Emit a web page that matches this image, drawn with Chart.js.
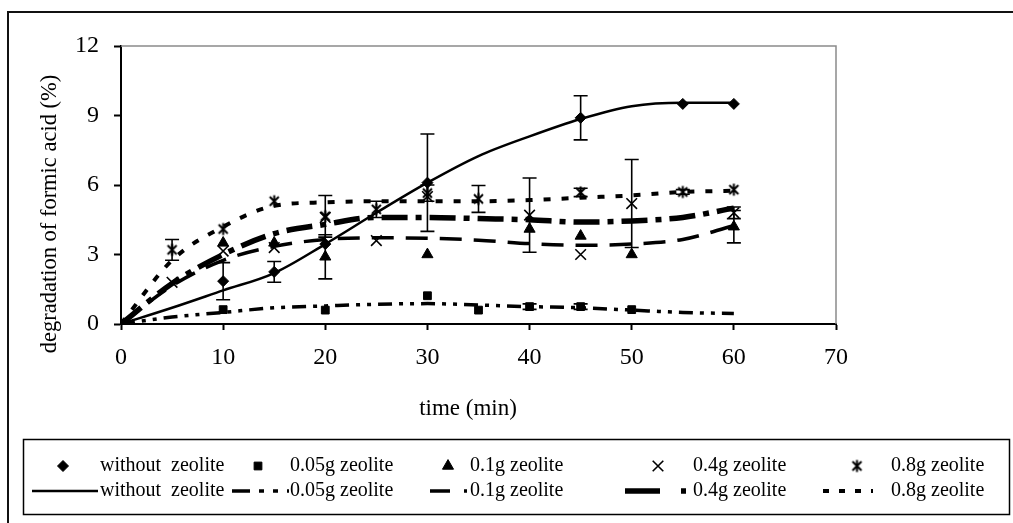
<!DOCTYPE html>
<html><head><meta charset="utf-8">
<script src="https://cdn.jsdelivr.net/npm/chart.js@4.4.1/dist/chart.umd.min.js"></script>
<style>html,body{margin:0;padding:0;background:#fff;}#wrap{width:1013px;height:523px;position:relative;}</style>
</head><body><div id="wrap"><canvas id="c" width="1013" height="523"></canvas></div>
<script>
// ---------- data ----------
const timeTicks = [0, 10, 20, 30, 40, 50, 60, 70];
const valueTicks = [0, 3, 6, 9, 12];
const seriesNames = ['without  zeolite', '0.05g zeolite', '0.1g zeolite', '0.4g zeolite', '0.8g zeolite'];
const xTitle = 'time (min)';
const yTitle = 'degradation of formic acid (%)';

// measured points (markers) with error (+/-)
const tNo  = [0, 10, 15, 20, 30, 45, 55, 60];
const vNo  = [0, 1.85, 2.25, 3.45, 6.1, 8.9, 9.5, 9.5];
const eNo  = [0, 0.8, 0.45, 0, 2.1, 0.95, 0, 0];

const t005 = [0, 10, 20, 30, 35, 40, 45, 50];
const v005 = [0, 0.62, 0.6, 1.22, 0.6, 0.75, 0.75, 0.62];
const e005 = [0, 0, 0, 0, 0, 0.12, 0.12, 0];

const t01  = [0, 10, 15, 20, 30, 40, 45, 50, 60];
const v01  = [0, 3.5, 3.5, 2.9, 3.0, 4.1, 3.8, 3.0, 4.2];
const e01  = [0, 0, 0, 0.95, 0, 0, 0, 0, 0.7];

const t04  = [0, 5, 10, 15, 20, 25, 30, 40, 45, 50, 60];
const v04  = [0, 1.8, 3.15, 3.3, 4.6, 3.6, 5.5, 4.7, 3.0, 5.2, 4.8];
const e04  = [0, 0, 0, 0, 0, 0, 0, 1.6, 0, 1.9, 0.25];

const t08  = [0, 5, 10, 15, 20, 25, 30, 35, 45, 55, 60];
const v08  = [0, 3.2, 4.1, 5.3, 4.65, 4.95, 5.65, 5.4, 5.68, 5.7, 5.8];
const e08  = [0, 0.45, 0, 0, 0.9, 0.35, 0.35, 0.58, 0.18, 0.1, 0];

// smoothed trend lines
const timeLine = [0, 5, 10, 15, 20, 25, 30, 35, 40, 45, 50, 55, 60];
const lineNo  = [0, 0.7, 1.45, 2.2, 3.45, 4.8, 6.1, 7.25, 8.1, 8.85, 9.4, 9.55, 9.55];
const line005 = [0, 0.3, 0.5, 0.7, 0.78, 0.85, 0.88, 0.82, 0.75, 0.7, 0.6, 0.5, 0.45];
const line01  = [0, 1.65, 2.75, 3.35, 3.65, 3.72, 3.7, 3.62, 3.47, 3.4, 3.45, 3.65, 4.25];
const line04  = [0, 1.75, 3.0, 3.9, 4.3, 4.6, 4.6, 4.55, 4.5, 4.4, 4.45, 4.6, 5.0];
const line08  = [0, 2.75, 4.2, 5.1, 5.25, 5.3, 5.3, 5.3, 5.35, 5.45, 5.55, 5.7, 5.75];

// ---------- helpers ----------
const FONT = '"Liberation Serif", "Times New Roman", serif';
function pts(t, v) { return t.map((x, i) => ({ x: x, y: v[i] })); }
function makeStar() {
  const c = document.createElement('canvas'); c.width = 15; c.height = 15;
  const g = c.getContext('2d'); g.strokeStyle = '#000'; g.lineWidth = 2;
  g.beginPath();
  g.moveTo(3, 3); g.lineTo(12, 12); g.moveTo(12, 3); g.lineTo(3, 12);
  g.moveTo(7.5, 1.5); g.lineTo(7.5, 13.5); g.stroke();
  return c;
}
const starImg = makeStar();

const markerDefs = [
  { t: tNo, v: vNo, e: eNo, style: 'rectRot', r: 5.5 },
  { t: t005, v: v005, e: e005, style: 'rect', r: 5.5 },
  { t: t01, v: v01, e: e01, style: 'triangle', r: 6.4 },
  { t: t04, v: v04, e: e04, style: 'crossRot', r: 7.5 },
  { t: t08, v: v08, e: e08, style: starImg, r: 7 }
];
const lineDefs = [
  { v: lineNo, dash: [], legendDash: [], w: 2.5 },
  { v: line005, dash: [14, 7, 4, 7, 4, 7], legendDash: [18, 9, 5, 9, 5, 9], w: 3.5 },
  { v: line01, dash: [22, 12], legendDash: [20, 14], w: 3.5 },
  { v: line04, dash: [26, 8, 6, 8], legendDash: [35, 21, 5, 20], w: 5.5 },
  { v: line08, dash: [7, 11], legendDash: [6, 10], w: 4 }
];

const datasets = [];
markerDefs.forEach((m, i) => {
  datasets.push({
    label: seriesNames[i], data: pts(m.t, m.v), showLine: false,
    pointStyle: m.style, pointRadius: m.r, pointHoverRadius: m.r,
    backgroundColor: '#000', borderColor: '#000', pointBorderWidth: m.style === 'crossRot' ? 1.6 : 1,
    errors: m.e
  });
});
lineDefs.forEach((l, i) => {
  datasets.push({
    label: seriesNames[i], data: pts(timeLine, l.v), showLine: true,
    borderColor: '#000', borderWidth: l.w, borderDash: l.dash, borderCapStyle: 'butt',
    pointRadius: 0, pointHoverRadius: 0, fill: false,
    cubicInterpolationMode: 'monotone'
  });
});

// ---------- custom drawing plugin ----------
function drawMarker(ctx, style, r, x, y) {
  ctx.save();
  ctx.fillStyle = '#000'; ctx.strokeStyle = '#000'; ctx.lineWidth = 1;
  ctx.beginPath();
  if (style === 'rectRot') {
    ctx.moveTo(x - r, y); ctx.lineTo(x, y - r); ctx.lineTo(x + r, y); ctx.lineTo(x, y + r); ctx.closePath(); ctx.fill(); ctx.stroke();
  } else if (style === 'rect') {
    const s = r * Math.SQRT1_2; ctx.rect(x - s, y - s, 2 * s, 2 * s); ctx.fill(); ctx.stroke();
  } else if (style === 'triangle') {
    for (let k = 0; k < 3; k++) {
      const a = k * 2 * Math.PI / 3;
      const px = x + Math.sin(a) * r, py = y - Math.cos(a) * r;
      if (k === 0) ctx.moveTo(px, py); else ctx.lineTo(px, py);
    }
    ctx.closePath(); ctx.fill(); ctx.stroke();
  } else if (style === 'crossRot') {
    const d = r * Math.SQRT1_2; ctx.lineWidth = 1.6;
    ctx.moveTo(x - d, y - d); ctx.lineTo(x + d, y + d); ctx.moveTo(x + d, y - d); ctx.lineTo(x - d, y + d); ctx.stroke();
  } else {
    ctx.drawImage(style, x - style.width / 2, y - style.height / 2);
  }
  ctx.restore();
}

const decor = {
  id: 'decor',
  beforeDraw(chart) {
    const ctx = chart.ctx;
    ctx.save();
    ctx.fillStyle = '#fff'; ctx.fillRect(0, 0, chart.width, chart.height);
    // outer frame
    ctx.strokeStyle = '#111'; ctx.lineWidth = 2;
    ctx.beginPath(); ctx.moveTo(8, 524); ctx.lineTo(8, 12); ctx.lineTo(1014, 12); ctx.stroke();
    ctx.restore();
  },
  beforeDatasetsDraw(chart) {
    const ctx = chart.ctx, a = chart.chartArea;
    ctx.save();
    ctx.strokeStyle = '#8a8a8a'; ctx.lineWidth = 1.5;
    ctx.beginPath(); ctx.moveTo(a.left, a.top); ctx.lineTo(a.right, a.top); ctx.lineTo(a.right, a.bottom); ctx.stroke();
    ctx.restore();
  },
  afterDatasetsDraw(chart) {
    const ctx = chart.ctx, xs = chart.scales.x, ys = chart.scales.y;
    ctx.save();
    ctx.strokeStyle = '#000'; ctx.lineWidth = 1.6;
    chart.data.datasets.forEach(ds => {
      if (!ds.errors) return;
      ds.data.forEach((p, i) => {
        const e = ds.errors[i];
        if (!e) return;
        const x = xs.getPixelForValue(p.x);
        const y1 = ys.getPixelForValue(p.y + e), y2 = ys.getPixelForValue(p.y - e);
        ctx.beginPath();
        ctx.moveTo(x, y1); ctx.lineTo(x, y2);
        ctx.moveTo(x - 7, y1); ctx.lineTo(x + 7, y1);
        ctx.moveTo(x - 7, y2); ctx.lineTo(x + 7, y2);
        ctx.stroke();
      });
    });
    ctx.restore();
  },
  afterDraw(chart) {
    const ctx = chart.ctx;
    ctx.save();
    ctx.fillStyle = '#000';
    // axis titles
    ctx.font = '23px ' + FONT; ctx.textAlign = 'center'; ctx.textBaseline = 'middle';
    ctx.fillText(xTitle, 468, 409);
    ctx.save();
    ctx.translate(50, 214); ctx.rotate(-Math.PI / 2);
    ctx.font = '22.5px ' + FONT;
    ctx.fillText(yTitle, 0, 0);
    ctx.restore();
    // legend
    ctx.strokeStyle = '#000'; ctx.lineWidth = 1.5;
    ctx.strokeRect(23.5, 439.5, 986, 75);
    const cols = [
      { mx: 63, tx: 100, l0: 32, l1: 98 },
      { mx: 258, tx: 290, l0: 232, l1: 289 },
      { mx: 448, tx: 470, l0: 430, l1: 467 },
      { mx: 658, tx: 693, l0: 625, l1: 686 },
      { mx: 857, tx: 891, l0: 823, l1: 873 }
    ];
    const row1 = 466, row2 = 491;
    ctx.font = '20px ' + FONT; ctx.textAlign = 'left'; ctx.textBaseline = 'middle';
    cols.forEach((c, i) => {
      const m = markerDefs[i], l = lineDefs[i];
      drawMarker(ctx, m.style, m.r, c.mx, row1);
      ctx.fillText(seriesNames[i], c.tx, row1);
      ctx.save();
      ctx.strokeStyle = '#000'; ctx.lineWidth = l.w; ctx.setLineDash(l.legendDash); ctx.lineCap = 'butt';
      ctx.beginPath(); ctx.moveTo(c.l0, row2); ctx.lineTo(c.l1, row2); ctx.stroke();
      ctx.restore();
      ctx.fillText(seriesNames[i], c.tx, row2);
    });
    ctx.restore();
  }
};

Chart.defaults.font.family = FONT;
Chart.defaults.color = '#000';

new Chart(document.getElementById('c'), {
  type: 'scatter',
  data: { datasets: datasets },
  plugins: [decor],
  options: {
    responsive: false, animation: false, devicePixelRatio: 1,
    layout: { padding: { left: 21, top: 46, right: 177, bottom: 139 } },
    plugins: { legend: { display: false }, tooltip: { enabled: false } },
    scales: {
      x: {
        type: 'linear', min: 0, max: 70,
        afterBuildTicks: s => { s.ticks = timeTicks.map(v => ({ value: v })); },
        afterFit: s => { s.height = 60; },
        grid: { drawOnChartArea: false, drawTicks: true, tickLength: 6, tickWidth: 2, tickColor: '#000' },
        border: { display: true, color: '#000', width: 2 },
        ticks: { font: { size: 24, family: FONT }, color: '#000', padding: 13, maxRotation: 0 }
      },
      y: {
        type: 'linear', min: 0, max: 12,
        afterBuildTicks: s => { s.ticks = valueTicks.map(v => ({ value: v })); },
        afterFit: s => { s.width = 100; },
        grid: { drawOnChartArea: false, drawTicks: true, tickLength: 7, tickWidth: 2, tickColor: '#000' },
        border: { display: true, color: '#000', width: 2 },
        ticks: { font: { size: 24, family: FONT }, color: '#000', padding: 15 }
      }
    }
  }
});
</script>
</body></html>
